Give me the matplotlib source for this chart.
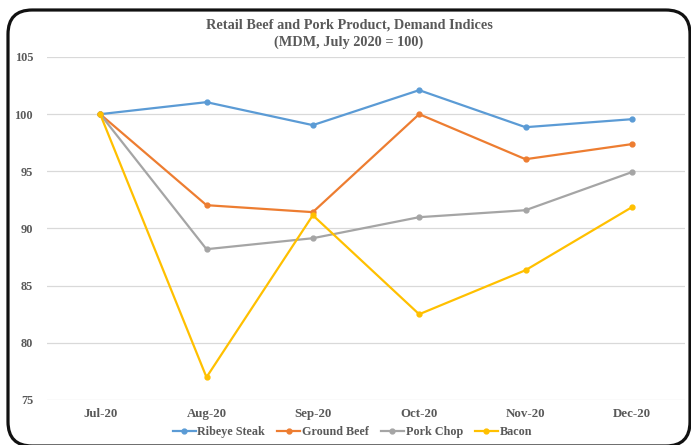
import matplotlib.pyplot as plt
from matplotlib.patches import FancyBboxPatch

# Dados
meses = ["Jul-20", "Aug-20", "Sep-20", "Oct-20", "Nov-20", "Dec-20"]
ribeye = [100, 101.05, 99.04, 102.1, 98.86, 99.56]
ground_beef = [100, 92.04, 91.43, 100, 96.06, 97.38]
pork_chop = [100, 88.19, 89.15, 90.99, 91.6, 94.93]
bacon = [100, 76.99, 91.16, 82.5, 86.35, 91.86]

series = [
    ("Ribeye Steak", ribeye, "#5B9BD5"),
    ("Ground Beef", ground_beef, "#ED7D31"),
    ("Pork Chop", pork_chop, "#A5A5A5"),
    ("Bacon", bacon, "#FFC000"),
]

plt.rcParams['font.family'] = ['Liberation Serif', 'DejaVu Serif']
texto = "#595959"
W, H = 691, 445

fig = plt.figure(figsize=(W / 100, H / 100), dpi=100)

# Moldura arredondada
moldura = FancyBboxPatch((8 / W, -1 / H), 682 / W, 436 / H,
                         boxstyle="round,pad=0,rounding_size=0.035",
                         transform=fig.transFigure, fill=False,
                         edgecolor="#111111", linewidth=2.3, mutation_aspect=W / H)
fig.patches.append(moldura)

ax = fig.add_axes([47 / W, 1 - 400 / H, 638 / W, 343 / H])
x = range(len(meses))
for nome, valores, cor in series:
    ax.plot(x, valores, color=cor, linewidth=1.6, marker="o", markersize=3.5, label=nome)

ax.set_xlim(-0.5, len(meses) - 0.5)
ax.set_ylim(75, 105)
ax.set_yticks([75, 80, 85, 90, 95, 100, 105])
ax.set_xticks(list(x))
ax.set_xticklabels(meses)
ax.grid(axis="y", color="#D9D9D9", linewidth=0.9)
ax.set_axisbelow(True)
for s in ax.spines.values():
    s.set_visible(False)
ax.tick_params(axis="x", length=0, labelsize=9.3, labelcolor=texto, pad=6)
ax.tick_params(axis="y", length=0, labelsize=8.8, labelcolor=texto, pad=10)
for lbl in ax.get_xticklabels() + ax.get_yticklabels():
    lbl.set_fontweight("bold")

fig.text(0.505, 1 - 25.5 / H, "Retail Beef and Pork Product, Demand Indices",
         ha="center", va="center", fontsize=10.3, fontweight="bold", color=texto)
fig.text(0.505, 1 - 42.5 / H, "(MDM, July 2020 = 100)",
         ha="center", va="center", fontsize=10.3, fontweight="bold", color=texto)

leg = ax.legend(loc="center", bbox_to_anchor=(0.51, 1 - 432 / H), bbox_transform=fig.transFigure,
                ncol=4, frameon=False, handlelength=1.9, handletextpad=0.15, columnspacing=1.0,
                prop={"weight": "bold", "size": 8.7})
for t in leg.get_texts():
    t.set_color(texto)

fig.savefig("out.png", dpi=100)
